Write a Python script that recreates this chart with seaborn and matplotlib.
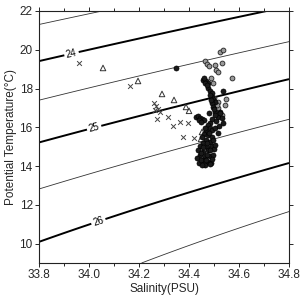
import matplotlib
matplotlib.use("Agg")
import matplotlib.pyplot as plt
import numpy as np
import pandas as pd
import seaborn as sns

# crosses
cross_s = [33.96, 34.164, 34.272, 34.316, 34.336, 34.364, 34.396, 34.376, 34.42,
           34.26, 34.268, 34.276, 34.284, 34.264]
cross_t = [19.32, 18.13, 16.43, 16.54, 16.07, 16.28, 16.23, 15.51, 15.45,
           17.26, 17.10, 16.95, 16.79, 16.90]

# triangles
tri_s = [34.056, 34.196, 34.292, 34.34, 34.388, 34.40, 34.452, 34.448, 34.448]
tri_t = [19.06, 18.39, 17.72, 17.41, 17.05, 16.85, 15.76, 15.40, 14.84]

# open circles
open_s = [34.524, 34.536, 34.464, 34.472, 34.48, 34.504, 34.532, 34.508, 34.516,
          34.572, 34.496, 34.488, 34.50, 34.516, 34.548, 34.544, 34.516, 34.532, 34.512]
open_t = [19.89, 19.99, 19.42, 19.27, 19.16, 19.22, 19.32, 18.96, 18.86,
          18.55, 18.29, 18.55, 17.52, 17.31, 17.46, 17.15, 17.00, 16.64, 17.15]

# filled circles
fill_s = [34.348, 34.536, 34.456, 34.468, 34.476, 34.464, 34.46, 34.476, 34.484, 34.492,
          34.492, 34.496, 34.504, 34.492, 34.496, 34.524, 34.504, 34.516, 34.524, 34.504,
          34.532, 34.536, 34.428, 34.436, 34.444, 34.452, 34.46, 34.44, 34.448,
          34.484, 34.476, 34.484, 34.468, 34.492, 34.46, 34.476, 34.492, 34.468, 34.484,
          34.456, 34.444, 34.472, 34.492, 34.436, 34.456, 34.476, 34.50, 34.444, 34.464,
          34.484, 34.432, 34.456, 34.476, 34.44, 34.464, 34.488, 34.496, 34.504, 34.516,
          34.496, 34.504, 34.464, 34.48, 34.452, 34.472, 34.456, 34.484, 34.448, 34.472,
          34.492, 34.448, 34.468, 34.484, 34.452, 34.472, 34.484, 34.488, 34.50, 34.48,
          34.492, 34.508, 34.52]
fill_t = [19.06, 17.88, 18.44, 18.39, 18.29, 18.29, 18.55, 18.03, 17.88, 17.77,
          17.57, 17.46, 17.31, 17.26, 17.05, 16.79, 16.79, 16.54, 16.74, 16.64,
          16.48, 16.23, 16.54, 16.59, 16.48, 16.43, 16.38, 16.38, 16.28,
          16.23, 16.12, 15.97, 15.81, 15.87, 15.66, 15.61, 15.50, 15.35, 15.25,
          15.20, 15.04, 14.99, 15.04, 14.83, 14.73, 14.83, 14.89, 14.58, 14.47,
          14.53, 14.42, 14.32, 14.22, 14.16, 14.06, 14.16, 14.58, 15.97, 15.71,
          15.35, 15.09, 15.97, 15.71, 15.50, 15.20, 14.99, 14.83, 14.68, 14.58,
          14.37, 14.32, 14.32, 14.11, 14.06, 18.19, 17.67, 17.41, 16.95, 16.74,
          16.43, 16.33, 16.07]

thin_levels = [23.5, 24.5, 25.5, 26.5]
thick_levels = [24, 25, 26]


def sigma0(S, T):
    # UNESCO 1980 density at p=0, minus 1000
    rw = (999.842594 + 6.793952e-2 * T - 9.095290e-3 * T**2 + 1.001685e-4 * T**3
          - 1.120083e-6 * T**4 + 6.536332e-9 * T**5)
    A = 8.24493e-1 - 4.0899e-3 * T + 7.6438e-5 * T**2 - 8.2467e-7 * T**3 + 5.3875e-9 * T**4
    B = -5.72466e-3 + 1.0227e-4 * T - 1.6546e-6 * T**2
    C = 4.8314e-4
    return rw + A * S + B * S**1.5 + C * S**2 - 1000.0


sns.set_style("ticks")
plt.rcParams["font.family"] = ["Liberation Sans", "DejaVu Sans"]

fig = plt.figure(figsize=(3.01, 2.96), dpi=100)
ax = fig.add_axes([0.1296, 0.1115, 0.8306, 0.8515])

ss, tt = np.meshgrid(np.linspace(33.8, 34.8, 200), np.linspace(9, 22, 200))
sig = sigma0(ss, tt)
ax.contour(ss, tt, sig, levels=thin_levels, colors="#333333", linewidths=0.6)
cs = ax.contour(ss, tt, sig, levels=thick_levels, colors="black", linewidths=1.4)
ax.clabel(cs, fmt="%d", fontsize=7, inline=True, inline_spacing=2,
          manual=[(33.93, 19.8), (34.02, 16.0), (34.036, 11.2)])

sns.scatterplot(x=cross_s, y=cross_t, marker="x", s=12, color="#444444",
                linewidth=0.7, ax=ax, zorder=3)
sns.scatterplot(x=tri_s, y=tri_t, marker="^", s=16, facecolors="none",
                edgecolor="#333333", linewidth=0.7, ax=ax, zorder=3)
sns.scatterplot(x=open_s, y=open_t, marker="o", s=12, color="#999999",
                edgecolor="#222222", linewidth=0.6, ax=ax, zorder=3)
sns.scatterplot(x=fill_s, y=fill_t, marker="o", s=13, color="#1a1a1a",
                edgecolor="black", linewidth=0.5, ax=ax, zorder=4)

ax.set_xlim(33.8, 34.8)
ax.set_ylim(9, 22)
ax.set_xticks(np.arange(33.8, 34.81, 0.2))
ax.set_xticks(np.arange(33.8, 34.81, 0.1), minor=True)
ax.set_xticklabels(["33.8", "34.0", "34.2", "34.4", "34.6", "34.8"])
ax.set_yticks([10, 12, 14, 16, 18, 20, 22])
ax.tick_params(which="both", direction="out", top=True, right=True,
               labelsize=8.5, length=3, width=0.7, pad=1.5)
ax.tick_params(which="minor", length=2)
for sp in ax.spines.values():
    sp.set_linewidth(0.8)
    sp.set_color("#222222")

ax.set_xlabel("Salinity(PSU)", fontsize=8.5, labelpad=1)
ax.set_ylabel("Potential Temperature(°C)", fontsize=8.5, labelpad=2)

fig.savefig("out.png", dpi=100)
